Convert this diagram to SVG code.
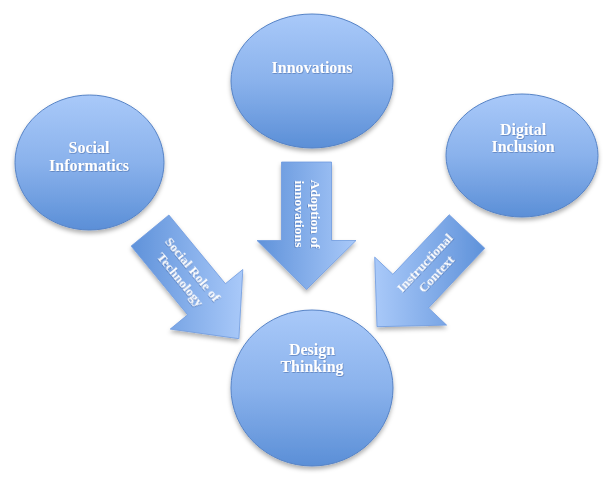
<svg xmlns="http://www.w3.org/2000/svg" width="610" height="480" viewBox="0 0 610 480">
  <defs>
    <linearGradient id="gCircle" x1="0" y1="0" x2="0" y2="1">
      <stop offset="0" stop-color="#a9c9f9"/>
      <stop offset="0.5" stop-color="#8ab2ec"/>
      <stop offset="1" stop-color="#5b8fd7"/>
    </linearGradient>
    <linearGradient id="gDarkLeft" x1="0" y1="0" x2="1" y2="0">
      <stop offset="0" stop-color="#5f92da"/>
      <stop offset="1" stop-color="#a9c9f9"/>
    </linearGradient>
    <linearGradient id="gLightLeft" x1="0" y1="0" x2="1" y2="0">
      <stop offset="0" stop-color="#a9c9f9"/>
      <stop offset="1" stop-color="#5f92da"/>
    </linearGradient>
    <filter id="shadow" x="-20%" y="-20%" width="140%" height="150%">
      <feDropShadow dx="0" dy="3" stdDeviation="2" flood-color="#000" flood-opacity="0.3"/>
    </filter>
    <filter id="tshadow" x="-10%" y="-30%" width="120%" height="160%">
      <feDropShadow dx="0.6" dy="0.8" stdDeviation="0.4" flood-color="#3a5f99" flood-opacity="0.6"/>
    </filter>
  </defs>
  <style>
    .node { fill: url(#gCircle); stroke: #5683c6; stroke-width: 1; filter: url(#shadow); }
    .arrow { stroke: #6f9be0; stroke-width: 0.8; filter: url(#shadow); }
    .lbl { font-family: "Liberation Serif", "Times New Roman", serif; font-weight: bold; fill: #ffffff; text-anchor: middle; filter: url(#tshadow); }
    .nl { font-size: 16px; }
    .al { font-size: 13.5px; }
  </style>

  <g id="connectors">
    <g id="arrow-social-role">
      <polygon class="arrow" fill="url(#gDarkLeft)" points="168.9,215.0 225.4,283.7 242.8,269.5 238.9,338.7 170.2,329.1 187.6,314.8 131.1,246.1"/>
      <g transform="translate(187,274) rotate(50.6)">
        <text class="lbl al" x="0" y="-3.5">Social Role of</text>
        <text class="lbl al" x="0" y="13">Technology</text>
      </g>
    </g>
    <g id="arrow-adoption">
      <polygon class="arrow" fill="url(#gDarkLeft)" points="281.5,162 331.5,162 331.5,240.5 356,240.5 306.5,289.5 257,240.5 281.5,240.5"/>
      <g transform="translate(308,214) rotate(90)">
        <text class="lbl al" x="0" y="-3.5">Adoption of</text>
        <text class="lbl al" x="0" y="13">innovations</text>
      </g>
    </g>
    <g id="arrow-instructional">
      <polygon class="arrow" fill="url(#gLightLeft)" points="449.2,214.7 484.8,248.3 428.5,307.9 446.6,325.1 377.0,326.7 374.7,257.1 392.9,274.3"/>
      <g transform="translate(430,268) rotate(-46.6)">
        <text class="lbl al" x="0" y="-3.5">Instructional</text>
        <text class="lbl al" x="0" y="13">Context</text>
      </g>
    </g>
  </g>

  <g id="node-innovations">
    <ellipse class="node" cx="312" cy="81" rx="81" ry="67"/>
    <text class="lbl nl" x="312" y="73">Innovations</text>
  </g>
  <g id="node-social-informatics">
    <ellipse class="node" cx="89.5" cy="162.5" rx="74.5" ry="67.5"/>
    <text class="lbl nl" x="89" y="153">Social</text>
    <text class="lbl nl" x="89" y="171">Informatics</text>
  </g>
  <g id="node-digital-inclusion">
    <ellipse class="node" cx="522" cy="155.5" rx="76" ry="61.5"/>
    <text class="lbl nl" x="523" y="135">Digital</text>
    <text class="lbl nl" x="523" y="152">Inclusion</text>
  </g>
  <g id="node-design-thinking">
    <ellipse class="node" cx="312" cy="388" rx="81" ry="78"/>
    <text class="lbl nl" x="312" y="355">Design</text>
    <text class="lbl nl" x="312" y="372">Thinking</text>
  </g>
</svg>
